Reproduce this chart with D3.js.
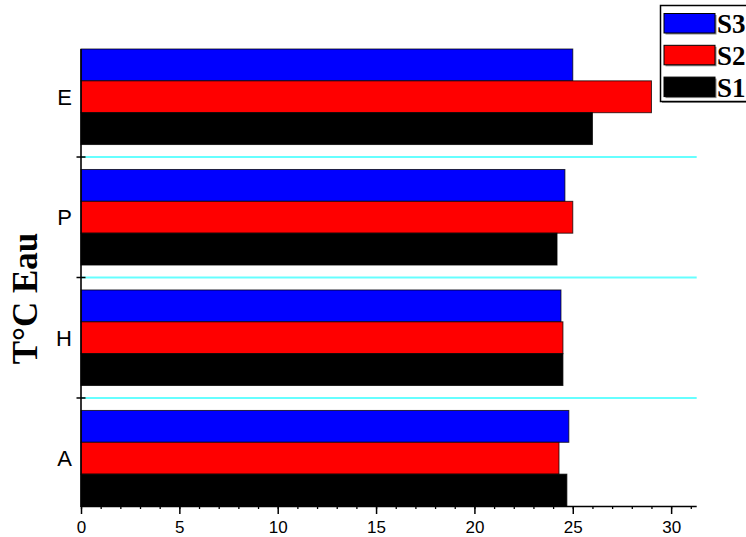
<!DOCTYPE html>
<html>
<head>
<meta charset="utf-8">
<script src="https://cdn.jsdelivr.net/npm/d3@7/dist/d3.min.js"></script>
<style>
  html, body { margin: 0; padding: 0; background: #fff; overflow: hidden; }
  svg { display: block; }
</style>
</head>
<body>
<svg id="chart" width="746" height="537"></svg>
<script>
// Water temperature by season (A, H, P, E) for three sampling stations
const categories = ["A", "H", "P", "E"];
const seriesNames = ["S3", "S2", "S1"];
const s1Values = [24.7, 24.5, 24.2, 26.0];
const s2Values = [24.3, 24.5, 25.0, 29.0];
const s3Values = [24.8, 24.4, 24.6, 25.0];
const xMajorTicks = [0, 5, 10, 15, 20, 25, 30];
const yTitle = "T°C Eau";

const seriesColors = { S1: "#000000", S2: "#ff0000", S3: "#0000ff" };
const seriesValues = { S1: s1Values, S2: s2Values, S3: s3Values };

const svg = d3.select("#chart");

const plotLeft = 81, plotRight = 696.7, plotTop = 49, plotBottom = 506;

const x = d3.scaleLinear().domain([0, 31.3]).range([plotLeft, plotRight]);
const y = d3.scaleBand().domain(categories).range([plotBottom, plotTop])
  .paddingInner(0.207).paddingOuter(0);
const yInner = d3.scaleBand().domain(seriesNames).range([0, y.bandwidth()]);

// separators between category groups
const gapHalf = y.step() * y.paddingInner() / 2;
const sepYs = categories.slice(1).map(c => y(c) + y.bandwidth() + gapHalf);
svg.append("g").selectAll("line").data(sepYs).join("line")
  .attr("x1", plotLeft).attr("x2", plotRight)
  .attr("y1", d => d).attr("y2", d => d)
  .attr("stroke", "#66ffff").attr("stroke-width", 1.8);

// bars
const rows = [];
categories.forEach((c, i) => {
  seriesNames.forEach(s => rows.push({ cat: c, series: s, value: seriesValues[s][i] }));
});
const barG = svg.append("g");
barG.selectAll("rect").data(rows).join("rect")
  .attr("x", x(0))
  .attr("y", d => y(d.cat) + yInner(d.series))
  .attr("width", d => x(d.value) - x(0))
  .attr("height", yInner.bandwidth())
  .attr("fill", d => seriesColors[d.series])
  .attr("stroke", "#000")
  .attr("stroke-opacity", 0.75)
  .attr("stroke-width", 1);

// bottom axis: minor ticks every 1, major every 5
const minor = d3.axisBottom(x).tickValues(d3.range(0, 32)).tickSize(3).tickFormat("");
svg.append("g").attr("transform", `translate(0,${plotBottom})`).call(minor)
  .call(g => g.select(".domain").remove())
  .call(g => g.selectAll("line").attr("stroke", "#000").attr("stroke-width", 1.3));

const major = d3.axisBottom(x).tickValues(xMajorTicks).tickSize(8).tickPadding(7)
  .tickFormat(d3.format("d"));
svg.append("g").attr("transform", `translate(0,${plotBottom})`).call(major)
  .call(g => g.select(".domain").attr("d", `M${plotLeft},0.5H${plotRight}`)
      .attr("stroke", "#000").attr("stroke-width", 1.6))
  .call(g => g.selectAll("line").attr("stroke", "#000").attr("stroke-width", 1.5))
  .call(g => g.selectAll("text").attr("fill", "#000")
      .style("font-family", "'Liberation Sans', Arial, sans-serif").style("font-size", "17px"));

// left axis with category labels and group boundary ticks
svg.append("line").attr("x1", plotLeft).attr("x2", plotLeft).attr("y1", plotTop).attr("y2", plotBottom + 1)
  .attr("stroke", "#000").attr("stroke-width", 1.6);
svg.append("g").selectAll("line").data(sepYs).join("line")
  .attr("x1", plotLeft - 4.5).attr("x2", plotLeft + 4.5)
  .attr("y1", d => d).attr("y2", d => d)
  .attr("stroke", "#000").attr("stroke-width", 1.5);
svg.append("g").selectAll("text").data(categories).join("text")
  .attr("x", 72).attr("y", c => y(c) + y.bandwidth() / 2 + 8)
  .attr("text-anchor", "end")
  .style("font-family", "'Liberation Sans', Arial, sans-serif").style("font-size", "22px")
  .text(c => c);

// axis title
svg.append("text")
  .attr("transform", "translate(37,298.5) rotate(-90)")
  .attr("text-anchor", "middle")
  .style("font-family", "'Liberation Serif', 'Times New Roman', serif")
  .style("font-weight", "bold").style("font-size", "35px")
  .text(yTitle);

// legend (box runs past the right edge of the page)
const leg = svg.append("g");
leg.append("rect").attr("x", 662).attr("y", 7).attr("width", 100).attr("height", 96)
  .attr("fill", "#999");
leg.append("rect").attr("x", 660.5).attr("y", 5.5).attr("width", 100).attr("height", 96)
  .attr("fill", "#fff").attr("stroke", "#000").attr("stroke-width", 1.5);
seriesNames.forEach((s, i) => {
  const yy = 13.5 + i * 31.8;
  leg.append("rect").attr("x", 665.5).attr("y", yy + 1.5).attr("width", 51).attr("height", 19.5)
    .attr("fill", "#888");
  leg.append("rect").attr("x", 664).attr("y", yy).attr("width", 51).attr("height", 19.5)
    .attr("fill", seriesColors[s]).attr("stroke", "#000").attr("stroke-width", 1);
  leg.append("text").attr("x", 717).attr("y", yy + 19.5)
    .style("font-family", "'Liberation Serif', 'Times New Roman', serif")
    .style("font-weight", "bold").style("font-size", "27px")
    .text(s);
});
</script>
</body>
</html>
